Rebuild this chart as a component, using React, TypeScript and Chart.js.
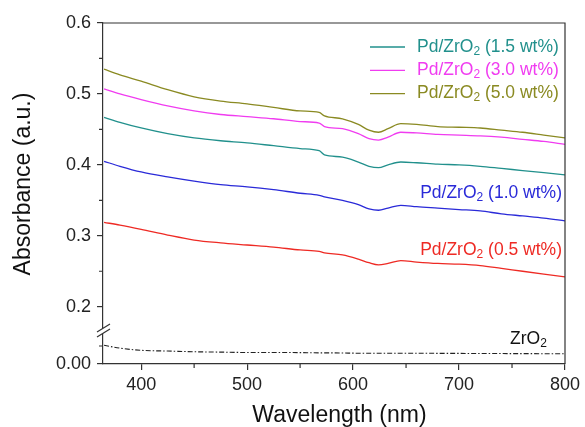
import React, { useEffect, useRef } from 'react';
import { Chart, registerables } from 'chart.js';

Chart.register(...registerables);

// ---- data ----
const wavelengths = [365, 380, 400, 425, 450, 475, 500, 525, 550, 568, 573, 590, 605, 615, 624, 633, 645, 660, 680, 700, 720, 740, 760, 780, 800];

const pd50 = [0.535, 0.527, 0.518, 0.506, 0.496, 0.490, 0.486, 0.481, 0.476, 0.474, 0.469, 0.465, 0.457, 0.449, 0.446, 0.451, 0.458, 0.457, 0.454, 0.453, 0.452, 0.449, 0.446, 0.442, 0.438];
const pd30 = [0.507, 0.500, 0.492, 0.483, 0.476, 0.471, 0.468, 0.465, 0.461, 0.459, 0.454, 0.451, 0.444, 0.437, 0.435, 0.439, 0.446, 0.445, 0.443, 0.442, 0.441, 0.439, 0.436, 0.433, 0.429];
const pd15 = [0.467, 0.460, 0.452, 0.444, 0.438, 0.434, 0.431, 0.427, 0.423, 0.420, 0.414, 0.411, 0.404, 0.398, 0.396, 0.400, 0.404, 0.403, 0.401, 0.400, 0.398, 0.395, 0.392, 0.389, 0.386];
const pd10 = [0.405, 0.398, 0.390, 0.383, 0.377, 0.372, 0.369, 0.365, 0.360, 0.357, 0.355, 0.350, 0.344, 0.338, 0.336, 0.339, 0.343, 0.341, 0.339, 0.337, 0.335, 0.331, 0.328, 0.325, 0.321];
const pd05 = [0.319, 0.315, 0.309, 0.301, 0.294, 0.290, 0.287, 0.284, 0.280, 0.278, 0.276, 0.273, 0.267, 0.262, 0.259, 0.261, 0.265, 0.263, 0.261, 0.260, 0.258, 0.254, 0.250, 0.246, 0.242];
const zro2 = [0.026, 0.022, 0.019, 0.018, 0.017, 0.0165, 0.016, 0.016, 0.0158, 0.0155, 0.0155, 0.0153, 0.015, 0.015, 0.015, 0.015, 0.015, 0.015, 0.0148, 0.0147, 0.0146, 0.0145, 0.0144, 0.0143, 0.0142];

const seriesLabels = ['Pd/ZrO2 (0.5 wt%)', 'Pd/ZrO2 (1.0 wt%)', 'Pd/ZrO2 (1.5 wt%)', 'Pd/ZrO2 (3.0 wt%)', 'Pd/ZrO2 (5.0 wt%)', 'ZrO2'];
const seriesColors = ['#ee2a24', '#2a2ad8', '#21908c', '#f03cf0', '#8a8a22', '#222222'];

const xTicks = [400, 500, 600, 700, 800];
const xMinor = [450, 550, 650, 750];
const yTicksUpper = [0.2, 0.3, 0.4, 0.5, 0.6];
const yMinorUpper = [0.25, 0.35, 0.45, 0.55];
const yTicksLower = [0];
const yMinorLower = [0.025];

const X_MIN = 364;
const X_MAX = 800;
const UPPER_MIN = 0.17;
const UPPER_MAX = 0.6;
const LOWER_MIN = 0;
const LOWER_MAX = 0.05;

const FONT = 'Arial, "Liberation Sans", sans-serif';
const AXIS = '#333333';

function richParts(label: string) {
  const i = label.indexOf('ZrO2');
  if (i < 0) return [{ t: label, sub: false }];
  return [
    { t: label.slice(0, i + 3), sub: false },
    { t: '2', sub: true },
    { t: label.slice(i + 4), sub: false },
  ].filter((p) => p.t.length > 0);
}

function drawRich(ctx: CanvasRenderingContext2D, label: string, x: number, y: number, align: 'left' | 'right', color: string, size: number) {
  const parts = richParts(label);
  const mainFont = `${size}px ${FONT}`;
  const subFont = `${Math.round(size * 0.66)}px ${FONT}`;
  let total = 0;
  const widths = parts.map((p) => {
    ctx.font = p.sub ? subFont : mainFont;
    const w = ctx.measureText(p.t).width;
    total += w;
    return w;
  });
  let cx = align === 'right' ? x - total : x;
  ctx.fillStyle = color;
  ctx.textAlign = 'left';
  ctx.textBaseline = 'alphabetic';
  parts.forEach((p, k) => {
    ctx.font = p.sub ? subFont : mainFont;
    ctx.fillText(p.t, cx, p.sub ? y + 3 : y);
    cx += widths[k];
  });
}

const decorPlugin = {
  id: 'decor',
  afterDraw(chart: any) {
    const ctx: CanvasRenderingContext2D = chart.ctx;
    const { left, right, top, bottom } = chart.chartArea;
    const xs = chart.scales.x;
    const yu = chart.scales.y;
    const yl = chart.scales.y2;
    ctx.save();
    ctx.strokeStyle = AXIS;
    ctx.lineWidth = 1.2;
    // frame (top, right)
    ctx.beginPath();
    ctx.moveTo(left, top);
    ctx.lineTo(right, top);
    ctx.lineTo(right, bottom);
    ctx.stroke();
    // minor ticks
    ctx.beginPath();
    xMinor.forEach((v) => {
      const px = xs.getPixelForValue(v);
      ctx.moveTo(px, bottom);
      ctx.lineTo(px, bottom + 4);
    });
    yMinorUpper.forEach((v) => {
      const py = yu.getPixelForValue(v);
      ctx.moveTo(left - 4, py);
      ctx.lineTo(left, py);
    });
    yMinorLower.forEach((v) => {
      const py = yl.getPixelForValue(v);
      ctx.moveTo(left - 4, py);
      ctx.lineTo(left, py);
    });
    ctx.stroke();
    // axis break marks
    const by = yu.bottom + 3;
    ctx.fillStyle = '#ffffff';
    ctx.beginPath();
    ctx.moveTo(left - 6, by + 1);
    ctx.lineTo(left + 7, by - 7);
    ctx.lineTo(left + 7, by - 2);
    ctx.lineTo(left - 6, by + 6);
    ctx.closePath();
    ctx.fill();
    ctx.beginPath();
    ctx.moveTo(left - 6, by + 1);
    ctx.lineTo(left + 7, by - 7);
    ctx.moveTo(left - 6, by + 6);
    ctx.lineTo(left + 7, by - 2);
    ctx.stroke();

    // legend with line samples (1.5, 3.0, 5.0)
    const legendItems = [2, 3, 4];
    legendItems.forEach((idx, k) => {
      const ly = 47 + k * 23.3;
      ctx.strokeStyle = seriesColors[idx];
      ctx.lineWidth = 1.3;
      ctx.beginPath();
      ctx.moveTo(370, ly);
      ctx.lineTo(405, ly);
      ctx.stroke();
      drawRich(ctx, seriesLabels[idx], 417, ly + 4.5, 'left', seriesColors[idx], 17.5);
    });
    // inline labels
    drawRich(ctx, seriesLabels[1], right - 3, 198, 'right', seriesColors[1], 17.5);
    drawRich(ctx, seriesLabels[0], right - 3, 255, 'right', seriesColors[0], 17.5);
    drawRich(ctx, seriesLabels[5], 510, 344, 'left', '#111111', 17.5);

    // axis titles
    ctx.fillStyle = '#111111';
    ctx.font = `23px ${FONT}`;
    ctx.textAlign = 'center';
    ctx.textBaseline = 'alphabetic';
    ctx.fillText('Wavelength (nm)', 339.5, 422);
    ctx.save();
    ctx.translate(30, 184);
    ctx.rotate(-Math.PI / 2);
    ctx.fillText('Absorbance (a.u.)', 0, 0);
    ctx.restore();
    ctx.restore();
  },
};

function toXY(values: number[]) {
  return wavelengths.map((w, i) => ({ x: w, y: values[i] }));
}

export default function App() {
  const canvasRef = useRef<HTMLCanvasElement | null>(null);

  useEffect(() => {
    document.body.style.margin = '0';
    const canvas = canvasRef.current;
    if (!canvas) return;
    const all = [pd05, pd10, pd15, pd30, pd50, zro2];
    const datasets = all.map((vals, i) => ({
      label: seriesLabels[i],
      data: toXY(vals),
      borderColor: seriesColors[i],
      backgroundColor: seriesColors[i],
      borderWidth: i === 5 ? 1.1 : 1.3,
      borderDash: i === 5 ? [5, 2, 1.5, 2] : [],
      pointRadius: 0,
      cubicInterpolationMode: 'monotone',
      fill: false,
      yAxisID: i === 5 ? 'y2' : 'y',
    }));

    const tickFont = { family: FONT, size: 18 };
    const chart = new Chart(canvas, {
      type: 'line',
      data: { datasets },
      plugins: [decorPlugin],
      options: {
        animation: false,
        responsive: false,
        maintainAspectRatio: false,
        layout: { padding: { top: 23, right: 20, left: 0, bottom: 0 } },
        plugins: { legend: { display: false }, tooltip: { enabled: false } },
        scales: {
          y2: {
            type: 'linear',
            position: 'left',
            stack: 'ystack',
            stackWeight: 36,
            min: LOWER_MIN,
            max: LOWER_MAX,
            afterBuildTicks: (s: any) => { s.ticks = yTicksLower.map((v) => ({ value: v })); },
            afterFit: (s: any) => { s.width = 103; },
            grid: { drawOnChartArea: false, drawTicks: true, tickLength: 6, color: AXIS, lineWidth: 1.2 },
            border: { display: true, color: AXIS, width: 1.2 },
            ticks: { font: tickFont, color: '#222', padding: 6, callback: (v: any) => Number(v).toFixed(2) },
          },
          y: {
            type: 'linear',
            position: 'left',
            stack: 'ystack',
            stackWeight: 305,
            min: UPPER_MIN,
            max: UPPER_MAX,
            afterBuildTicks: (s: any) => { s.ticks = yTicksUpper.map((v) => ({ value: v })); },
            afterFit: (s: any) => { s.width = 103; },
            grid: { drawOnChartArea: false, drawTicks: true, tickLength: 6, color: AXIS, lineWidth: 1.2 },
            border: { display: true, color: AXIS, width: 1.2 },
            ticks: { font: tickFont, color: '#222', padding: 6, callback: (v: any) => Number(v).toFixed(1) },
          },
          x: {
            type: 'linear',
            min: X_MIN,
            max: X_MAX,
            afterBuildTicks: (s: any) => { s.ticks = xTicks.map((v) => ({ value: v })); },
            afterFit: (s: any) => { s.height = 63; },
            grid: { drawOnChartArea: false, drawTicks: true, tickLength: 6, color: AXIS, lineWidth: 1.2 },
            border: { display: true, color: AXIS, width: 1.2 },
            ticks: { font: tickFont, color: '#222', padding: 4, maxRotation: 0, callback: (v: any) => String(v) },
          },
        },
      } as any,
    });
    return () => chart.destroy();
  }, []);

  return (
    <div style={{ width: 585, height: 427, position: 'relative', background: '#fff' }}>
      <canvas ref={canvasRef} width={585} height={427} style={{ display: 'block' }} />
    </div>
  );
}
